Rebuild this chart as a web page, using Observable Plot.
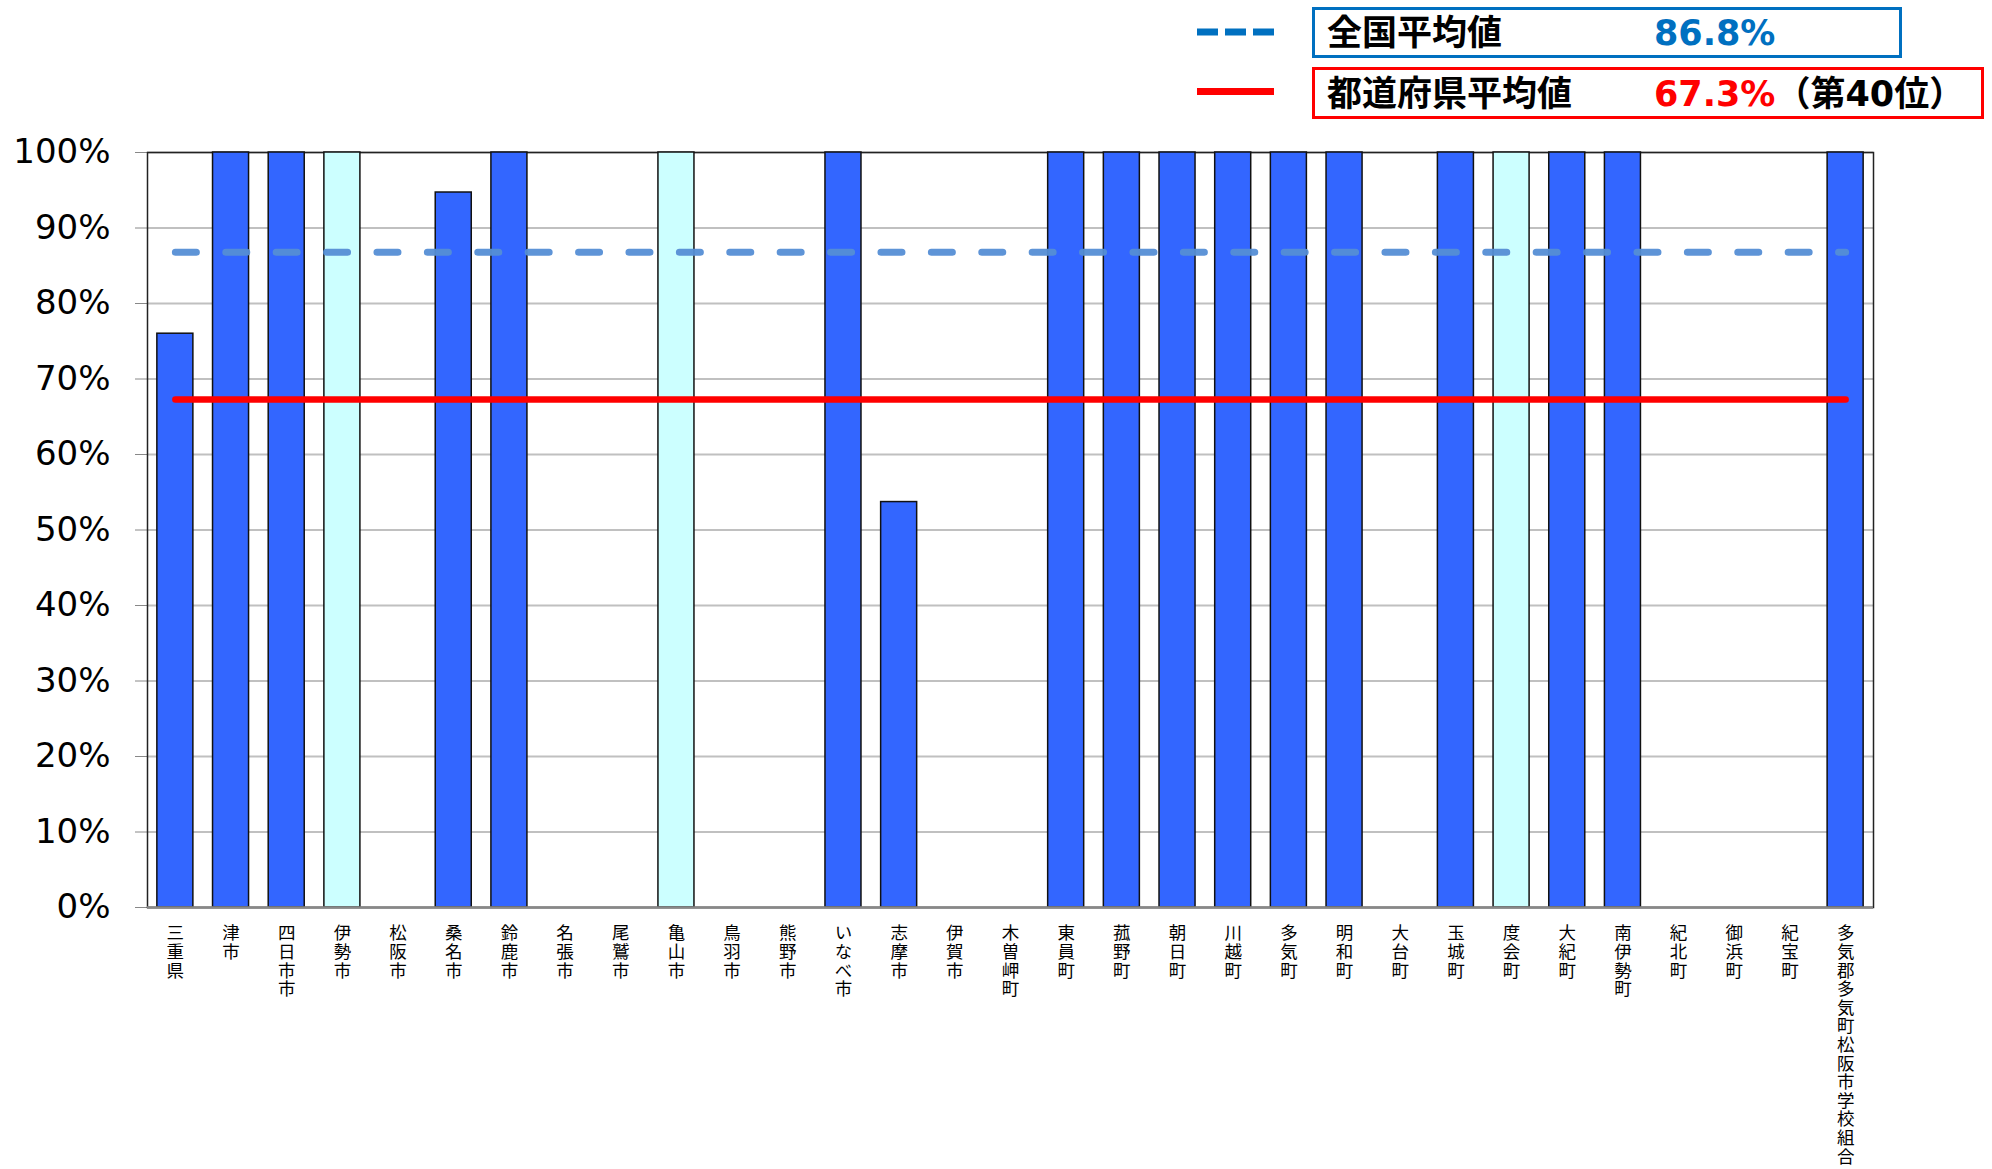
<!DOCTYPE html>
<html>
<head>
<meta charset="utf-8">
<script src="https://cdn.jsdelivr.net/npm/d3@7"></script>
<script src="https://cdn.jsdelivr.net/npm/@observablehq/plot@0.6"></script>
<style>
html, body { margin: 0; padding: 0; background: #fff; width: 1992px; height: 1169px; overflow: hidden; }
#legend { position: relative; width: 1992px; height: 127px; font-family: "DejaVu Sans", "Noto Sans CJK JP", sans-serif; font-weight: bold; }
#legend .box { position: absolute; left: 1312px; box-sizing: border-box; font-size: 35px; }
#legend .box span { position: absolute; top: 1px; white-space: nowrap; }
#legend svg { position: absolute; left: 1190px; top: 0; }
#chart svg text { fill: #000; }
#chart svg .vlabel text { writing-mode: vertical-rl; text-orientation: upright; letter-spacing: 1.1px; }
</style>
</head>
<body>
<div id="legend"></div>
<div id="chart"></div>
<script>
// ---- data ----
const categories = ["三重県","津市","四日市市","伊勢市","松阪市","桑名市","鈴鹿市","名張市","尾鷲市","亀山市","鳥羽市","熊野市","いなべ市","志摩市","伊賀市","木曽岬町","東員町","菰野町","朝日町","川越町","多気町","明和町","大台町","玉城町","度会町","大紀町","南伊勢町","紀北町","御浜町","紀宝町","多気郡多気町松阪市学校組合"];
const values = [76.0,100,100,100,0,94.7,100,0,0,100,0,0,100,53.7,0,0,100,100,100,100,100,100,0,100,100,100,100,0,0,0,100];
const lightCategories = ["伊勢市","亀山市","度会町"];
const yTicks = [0,10,20,30,40,50,60,70,80,90,100];
const nationalLabel = "全国平均値";
const nationalAvg = 86.8;
const prefLabel = "都道府県平均値";
const prefAvg = 67.3;
const prefRank = "（第40位）";

// ---- legend ----
const legend = document.getElementById("legend");
legend.innerHTML = `
<svg width="100" height="127">
  <line x1="7" x2="84" y1="32" y2="32" stroke="#0070C0" stroke-width="7" stroke-dasharray="21,7"/>
  <line x1="7" x2="84" y1="91.5" y2="91.5" stroke="#FF0000" stroke-width="7"/>
</svg>
<div class="box" style="top:7px;width:590px;height:51px;border:3px solid #0070C0;line-height:45px;">
  <span style="left:12px;color:#000">${nationalLabel}</span>
  <span style="left:339px;color:#0070C0">${nationalAvg.toFixed(1)}%</span>
</div>
<div class="box" style="top:67px;width:672px;height:52px;border:3px solid #FF0000;line-height:46px;">
  <span style="left:12px;color:#000">${prefLabel}</span>
  <span style="left:339px;"><span style="position:static;color:#FF0000">${prefAvg.toFixed(1)}%</span><span style="position:static;color:#000">${prefRank}</span></span>
</div>`;

// ---- chart ----
const data = categories.map((c, i) => ({
  name: c,
  value: values[i],
  kind: lightCategories.includes(c) ? "light" : "main"
}));
const first = categories[0], last = categories[categories.length - 1];

const chart = Plot.plot({
  width: 1992,
  height: 1042,
  marginTop: 25,
  marginBottom: 262,
  marginLeft: 147,
  marginRight: 119,
  style: { fontSize: "34px", fontFamily: "DejaVu Sans, Verdana, sans-serif", color: "#888", background: "#fff" },
  x: { domain: categories, paddingInner: 0.353, paddingOuter: 0.177, round: false, axis: null },
  y: { domain: [0, 100], ticks: yTicks, tickFormat: d => d + "%", tickSize: 12, tickPadding: 25, label: null, line: true },
  color: { domain: ["main", "light"], range: ["#3366FF", "#CCFFFF"] },
  marks: [
    Plot.ruleY(yTicks, { stroke: "#c0c0c0", strokeWidth: 2 }),
    Plot.frame({ stroke: "#222", strokeWidth: 1.5 }),
    Plot.barY(data, { x: "name", y: "value", fill: "kind", stroke: "#111", strokeWidth: 1.5 }),
    Plot.ruleY([0], { stroke: "#888", strokeWidth: 2.5 }),
    Plot.line([{ x: first, y: prefAvg }, { x: last, y: prefAvg }], { x: "x", y: "y", stroke: "#FF0000", strokeWidth: 6.5, strokeLinecap: "round" }),
    Plot.line([{ x: first, y: nationalAvg }, { x: last, y: nationalAvg }], { x: "x", y: "y", stroke: "#558ED5", strokeWidth: 7, strokeDasharray: "21,29.4", strokeLinecap: "round", strokeOpacity: 0.95 }),
    Plot.text(data, { x: "name", y: 0, text: "name", textAnchor: "start", dy: 11, fontSize: 17.5, fontFamily: "Noto Sans CJK JP", fill: "#000", className: "vlabel" })
  ]
});
// vertical (upright) labels: drop the horizontal baseline shift
d3.select(chart).selectAll(".vlabel text").attr("dy", null);
document.getElementById("chart").appendChild(chart);
</script>
</body>
</html>
